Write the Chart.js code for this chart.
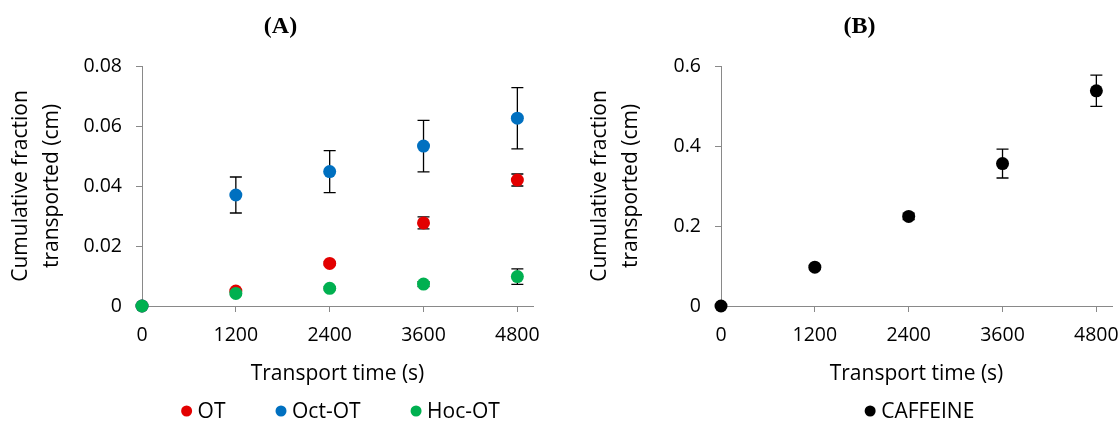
<!DOCTYPE html>
<html>
<head>
<meta charset="utf-8">
<title>Cumulative fraction transported</title>
<script src="https://cdn.jsdelivr.net/npm/chart.js@4/dist/chart.umd.min.js"></script>
<style>
  html, body { margin: 0; padding: 0; background: #fff; overflow: hidden; }
  body { width: 1120px; height: 423px; position: relative; }
  canvas { position: absolute; top: 0; }
  #chartA { left: 0; }
  #chartB { left: 579px; }
</style>
</head>
<body>
<canvas id="chartA" width="561" height="423"></canvas>
<canvas id="chartB" width="561" height="423"></canvas>
<script>
// transport times (s)
const times = [0, 1200, 2400, 3600, 4800];
const xTicks = [0, 1200, 2400, 3600, 4800];

// panel A
const otMean = [0, 0.005, 0.0142, 0.0277, 0.042];
const otErr = [0, 0.0004, 0.0005, 0.002, 0.002];
const octMean = [0, 0.037, 0.0448, 0.0533, 0.0626];
const octErr = [0, 0.006, 0.007, 0.0086, 0.0102];
const hocMean = [0, 0.0042, 0.0059, 0.0073, 0.0098];
const hocErr = [0, 0.0004, 0.0005, 0.0008, 0.0026];
const yTicksA = [0, 0.02, 0.04, 0.06, 0.08];

// panel B
const cafMean = [0, 0.097, 0.224, 0.356, 0.538];
const cafErr = [0, 0.004, 0.008, 0.036, 0.039];
const yTicksB = [0, 0.2, 0.4, 0.6];

const axisGray = '#898989';
const yTitle = ['Cumulative fraction', 'transported (cm)'];

Chart.defaults.font.family = "'Open Sans', sans-serif";
Chart.defaults.color = '#000';

function points(ys) {
    return times.map((t, i) => ({x: t, y: ys[i]}));
}

// error bars drawn behind the markers
const errorBars = {
    id: 'errorBars',
    beforeDatasetsDraw(chart) {
        const ctx = chart.ctx;
        const xs = chart.scales.x;
        const ys = chart.scales.y;
        ctx.save();
        ctx.strokeStyle = '#000';
        ctx.lineWidth = 1.3;
        chart.data.datasets.forEach(ds => {
            ds.data.forEach((p, i) => {
                const e = ds.errors[i];
                if (!e) return;
                const px = xs.getPixelForValue(p.x);
                const top = ys.getPixelForValue(p.y + e);
                const bot = ys.getPixelForValue(p.y - e);
                ctx.beginPath();
                ctx.moveTo(px, top);
                ctx.lineTo(px, bot);
                ctx.moveTo(px - 6, top);
                ctx.lineTo(px + 6, top);
                ctx.moveTo(px - 6, bot);
                ctx.lineTo(px + 6, bot);
                ctx.stroke();
            });
        });
        ctx.restore();
    }
};

// legend with round dots, centred under the plot area
const dotLegend = {
    id: 'dotLegend',
    afterDraw(chart) {
        const ctx = chart.ctx;
        const area = chart.chartArea;
        const r = 5.5;
        const gap = 50;
        ctx.save();
        ctx.font = "21px 'Open Sans'";
        ctx.textBaseline = 'middle';
        const items = chart.data.datasets.map(ds => ({
            text: ds.label,
            color: ds.backgroundColor,
            w: 2 * r + 5.5 + ctx.measureText(ds.label).width
        }));
        let total = gap * (items.length - 1);
        items.forEach(it => total += it.w);
        let x = (area.left + area.right) / 2 - total / 2 + 3;
        const y = chart.height - 12;
        items.forEach(it => {
            ctx.fillStyle = it.color;
            ctx.beginPath();
            ctx.arc(x + r, y, r, 0, Math.PI * 2);
            ctx.fill();
            ctx.fillStyle = '#000';
            ctx.fillText(it.text, x + 2 * r + 5.5, y + 1);
            x += it.w + gap;
        });
        ctx.restore();
    }
};

function makeOptions(title, yMax, yTicks) {
    return {
        responsive: false,
        animation: false,
        devicePixelRatio: 1,
        layout: {padding: {left: 0, right: 0, top: 0, bottom: 32}},
        plugins: {
            legend: {display: false},
            tooltip: {enabled: false},
            title: {
                display: true,
                text: title,
                color: '#000',
                font: {family: "'Liberation Serif', serif", size: 24, weight: 'bold'},
                padding: {top: 12.6, bottom: 24.6}
            }
        },
        scales: {
            x: {
                type: 'linear',
                min: 0,
                max: 5000,
                afterBuildTicks: s => { s.ticks = xTicks.map(v => ({value: v})); },
                // fixed box height, and room on the right so the title stays centred on the canvas
                afterFit: s => { s.height = 85; s.paddingRight = 28; },
                grid: {drawOnChartArea: false, color: axisGray, tickLength: 6},
                border: {color: axisGray, width: 1},
                ticks: {font: {size: 19.5}, padding: 12, callback: v => String(v)},
                title: {
                    display: true,
                    text: 'Transport time (s)',
                    font: {size: 21},
                    padding: {top: 0, bottom: 4}
                }
            },
            y: {
                min: 0,
                max: yMax,
                afterBuildTicks: s => { s.ticks = yTicks.map(v => ({value: v})); },
                afterFit: s => { s.width = 142; },
                grid: {drawOnChartArea: false, color: axisGray, tickLength: 6},
                border: {color: axisGray, width: 1},
                ticks: {font: {size: 19.5}, padding: 14, callback: v => String(+v.toFixed(3))},
                title: {
                    display: true,
                    text: yTitle,
                    font: {size: 21, lineHeight: 1.45},
                    padding: {top: 6, bottom: 0}
                }
            }
        }
    };
}

function series(label, color, ys, errs, order) {
    return {
        label: label,
        data: points(ys),
        errors: errs,
        order: order,
        clip: false,
        showLine: false,
        pointRadius: 6.5,
        pointHoverRadius: 6.5,
        pointBorderWidth: 0,
        backgroundColor: color,
        borderColor: color
    };
}

new Chart(document.getElementById('chartA').getContext('2d'), {
    type: 'scatter',
    data: {
        datasets: [
            series('OT', '#e30000', otMean, otErr, 2),
            series('Oct-OT', '#0070c0', octMean, octErr, 1),
            series('Hoc-OT', '#00b050', hocMean, hocErr, 0)
        ]
    },
    options: makeOptions('(A)', 0.08, yTicksA),
    plugins: [errorBars, dotLegend]
});

new Chart(document.getElementById('chartB').getContext('2d'), {
    type: 'scatter',
    data: {
        datasets: [
            series('CAFFEINE', '#000000', cafMean, cafErr, 0)
        ]
    },
    options: makeOptions('(B)', 0.6, yTicksB),
    plugins: [errorBars, dotLegend]
});
</script>
</body>
</html>
